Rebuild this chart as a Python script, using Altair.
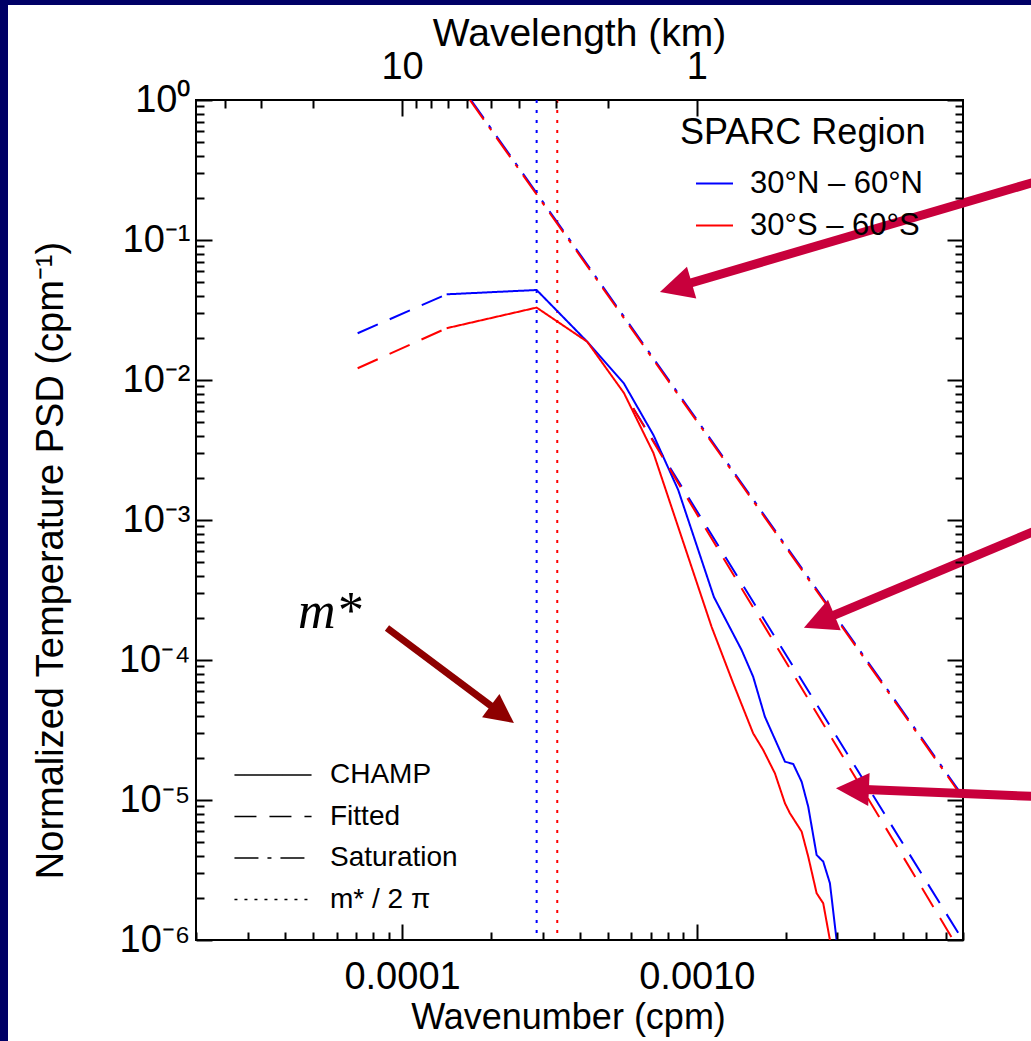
import math
import altair as alt
import pandas as pd

NAVY = "#000066"
CRIMSON = "#c8003c"
DARKRED = "#8e0000"
FONT = "Liberation Sans"

# ---------------- data ----------------
regions = ["30°N – 60°N", "30°S – 60°S"]
region_colors = ["#0000ff", "#ff0000"]
line_types = ["CHAMP", "Fitted", "Saturation", "m* / 2 π"]
line_dashes = [[1, 0], [22, 13], [24, 9, 4, 9], [3, 7]]

# CHAMP spectra (wavenumber in cpm, normalized PSD)
champ_n_k = [1.417e-4, 2.862e-4, 4.249e-4, 5.66e-4, 7.126e-4, 8.65e-4, 1.143e-3, 1.419e-3,
             1.553e-3, 1.702e-3, 1.991e-3, 2.124e-3, 2.268e-3, 2.388e-3, 2.55e-3, 2.685e-3,
             2.829e-3, 2.98e-3]
champ_n_psd = [0.04093, 0.04394, 0.01877, 0.00944, 0.004046, 0.001638, 2.818e-4, 1.179e-4,
               7.6e-5, 3.936e-5, 1.878e-5, 1.808e-5, 1.351e-5, 8.96e-6, 4.047e-6, 3.63e-6,
               2.544e-6, 1.0e-6]
champ_s_k = [1.417e-4, 2.862e-4, 4.249e-4, 5.66e-4, 7.126e-4, 1.123e-3, 1.329e-3, 1.553e-3,
             1.68e-3, 1.841e-3, 1.991e-3, 2.07e-3, 2.268e-3, 2.388e-3, 2.55e-3, 2.685e-3,
             2.829e-3]
champ_s_psd = [0.02344, 0.03290, 0.01877, 0.008075, 0.003011, 1.72e-4, 6.82e-5, 2.995e-5,
               2.276e-5, 1.551e-5, 9.47e-6, 8.04e-6, 5.95e-6, 3.94e-6, 2.157e-6, 1.829e-6,
               1.0e-6]

# fitted spectra: low-wavenumber extension and high-wavenumber power law
fit_low_k = [7.07e-5, 1.417e-4]
fit_low_n_psd = [0.02157, 0.04093]
fit_low_s_psd = [0.01213, 0.02344]
fit_high_n_k = [6.086e-4, 7.976e-3]
fit_high_n_psd = [6.278e-3, 1.0e-6]
fit_high_s_k = [6.086e-4, 7.413e-3]
fit_high_s_psd = [6.278e-3, 1.0e-6]

# saturation spectra
sat_k = [1.699e-4, 8.0e-3]
sat_n_psd = [1.025, 1.059e-5]
sat_s_psd = [1.0, 1.033e-5]

# m*/2pi vertical markers (blue, red)
mstar_k = [2.862e-4, 3.362e-4]

# annotation arrows (tail -> tip), in data units
arrow_tail_k = [1.4e-2, 1.4e-2, 1.4e-2, 8.89e-5]
arrow_tail_psd = [0.2596, 8.34e-4, 1.059e-5, 1.693e-4]
arrow_tip_k = [7.499e-4, 2.309e-3, 2.965e-3, 2.397e-4]
arrow_tip_psd = [0.04252, 1.70e-4, 1.215e-5, 3.548e-5]
arrow_kind = ["crimson", "crimson", "crimson", "dark"]

# "m*" label
mlabel_k = [4.436e-5]
mlabel_psd = [1.693e-4]
mlabel_text = ["m*"]

# axis ticks / labels
x_major = [1e-4, 1e-3]
x_major_labels = ["0.0001", "0.0010"]
wl_ticks_km = [40, 30, 20, 10, 9, 8, 7, 6, 5, 4, 3, 2, 1]
wl_major_km = [10, 1]
wl_major_labels = ["10", "1"]
y_major_labels = ["10⁰", "10⁻¹", "10⁻²", "10⁻³", "10⁻⁴", "10⁻⁵", "10⁻⁶"]

# ---------------- geometry ----------------
W, H = 767, 840
X_LO, X_HI = 2e-5, 8e-3
Y_LO, Y_HI = 1e-6, 1.0
LX0 = math.log10(X_LO)
LXD = math.log10(X_HI) - LX0
LY1 = math.log10(Y_HI)
LYD = LY1 - math.log10(Y_LO)


def to_px(k, p):
    return ((math.log10(k) - LX0) / LXD * W, (LY1 - math.log10(p)) / LYD * H)


def to_data(x, y):
    return (10 ** (LX0 + x / W * LXD), 10 ** (LY1 - y / H * LYD))


XS = alt.Scale(type="log", domain=[X_LO, X_HI], nice=False)
YS = alt.Scale(type="log", domain=[Y_LO, Y_HI], nice=False)

# ---------------- tables ----------------
rows = []


def add(region, typ, seg, ks, ps):
    for k, p in zip(ks, ps):
        rows.append({"k": k, "psd": p, "region": region, "type": typ, "seg": seg})


add(regions[0], "Saturation", "sat", sat_k, sat_n_psd)
add(regions[0], "Fitted", "fit_low", fit_low_k, fit_low_n_psd)
add(regions[0], "Fitted", "fit_high", fit_high_n_k, fit_high_n_psd)
add(regions[0], "CHAMP", "champ", champ_n_k, champ_n_psd)
add(regions[1], "Saturation", "sat", sat_k, sat_s_psd)
add(regions[1], "Fitted", "fit_low", fit_low_k, fit_low_s_psd)
add(regions[1], "Fitted", "fit_high", fit_high_s_k, fit_high_s_psd)
add(regions[1], "CHAMP", "champ", champ_s_k, champ_s_psd)
lines_df = pd.DataFrame(rows)

vlines_df = pd.DataFrame({"k": mstar_k, "region": regions, "type": [line_types[3]] * 2})

HEAD_PATH = "M0,0L-1,2L1,2Z"
head_size = {"crimson": 1089, "dark": 841}
shaft_w = {"crimson": 9, "dark": 7}
arrow_rows = []
for k0, p0, k1, p1, kind in zip(arrow_tail_k, arrow_tail_psd, arrow_tip_k, arrow_tip_psd, arrow_kind):
    x0, y0 = to_px(k0, p0)
    x1, y1 = to_px(k1, p1)
    dx, dy = x1 - x0, y1 - y0
    L = math.hypot(dx, dy)
    ux, uy = dx / L, dy / L
    s = math.sqrt(head_size[kind]) / 2
    ex, ey = x1 - ux * 1.4 * s, y1 - uy * 1.4 * s
    ke, pe = to_data(ex, ey)
    ang = math.degrees(math.atan2(dx, -dy)) % 360
    arrow_rows.append({"k0": k0, "p0": p0, "ke": ke, "pe": pe, "k1": k1, "p1": p1,
                       "angle": ang, "kind": kind})
arrows_df = pd.DataFrame(arrow_rows)

mlabel_df = pd.DataFrame({"k": mlabel_k, "psd": mlabel_psd, "t": mlabel_text})
one = pd.DataFrame({"a": [0]})

# ---------------- axes ----------------
TICK = "abs(log(datum.value)/LN10 - round(log(datum.value)/LN10)) < 0.001 ? -16 : -8"
x_ticks = [d * 10 ** e for e in (-5, -4, -3) for d in range(1, 10)
           if X_LO * 0.999 <= d * 10 ** e <= X_HI * 1.001]
y_ticks = [d * 10 ** e for e in range(-6, 0) for d in range(1, 10)] + [1.0]
wl_ticks = [1 / (w * 1000) for w in wl_ticks_km]

x_label_expr = " : ".join(f"datum.value == {v} ? '{l}'" for v, l in zip(x_major, x_major_labels)) + " : ''"
top_label_expr = " : ".join(f"datum.value == {1 / (w * 1000)} ? '{l}'"
                            for w, l in zip(wl_major_km, wl_major_labels)) + " : ''"
y_label_expr = ("abs(log(datum.value)/LN10 - round(log(datum.value)/LN10)) < 0.001 ? ["
                + ",".join(f"'{l}'" for l in y_major_labels)
                + "][round(-log(datum.value)/LN10)] : ''")

common_axis = dict(tickSize={"expr": TICK}, tickWidth=2, tickColor="black", domain=False,
                   grid=False, labelOverlap=False, labelFlush=False, labelColor="black",
                   labelFont=FONT, titleFont=FONT, titleColor="black", titleFontWeight="normal",
                   zindex=1)

x_bottom = alt.Axis(orient="bottom", values=x_ticks, labelExpr=x_label_expr, labelFontSize=38,
                    labelPadding=34, title="Wavenumber (cpm)", titleFontSize=36, titleX=372,
                    titleY=77, titleBaseline="middle", **common_axis)
y_left = alt.Axis(orient="left", values=y_ticks, labelExpr=y_label_expr, labelFontSize=38,
                  labelPadding=22, title="Normalized Temperature PSD (cpm⁻¹)", titleFontSize=38,
                  titleX=-145, titleY=460, titleBaseline="middle", titleAngle=270, **common_axis)
x_top = alt.Axis(orient="top", values=wl_ticks, labelExpr=top_label_expr, labelFontSize=38,
                 labelPadding=30, title="Wavelength (km)", titleFontSize=39, titleX=383,
                 titleY=-67, titleBaseline="middle", **common_axis)
y_right = alt.Axis(orient="right", values=y_ticks, labels=False, title=None, **common_axis)

# ---------------- layers ----------------
frame_top = alt.Chart(one).mark_rect(color=NAVY).encode(
    x=alt.value(-196), x2=alt.value(835), y=alt.value(-100), y2=alt.value(-95))
frame_left = alt.Chart(one).mark_rect(color=NAVY).encode(
    x=alt.value(-196), x2=alt.value(-188), y=alt.value(-100), y2=alt.value(941))

# long horizontal legend line (77 px with symbolSize 900)
LEGEND_LINE = "M-2.57,0H2.57"

color_enc = alt.Color("region:N", scale=alt.Scale(domain=regions, range=region_colors),
                      legend=alt.Legend(title="SPARC Region", orient="none", legendX=484, legendY=16,
                                        direction="vertical", symbolType="stroke", symbolSize=1369,
                                        symbolStrokeWidth=2, symbolOffset=15, labelOffset=16,
                                        labelFontSize=31, labelFont=FONT, labelColor="black",
                                        titleFontSize=36, titleFont=FONT, titleFontWeight="normal",
                                        titleColor="black", titlePadding=12, rowPadding=7,
                                        labelLimit=0, titleLimit=0, padding=0))
dash_enc = alt.StrokeDash("type:N", scale=alt.Scale(domain=line_types, range=line_dashes),
                          legend=alt.Legend(title=None, orient="none", legendX=38, legendY=659,
                                            direction="vertical", symbolType=LEGEND_LINE,
                                            symbolSize=900, symbolStrokeWidth=1.5,
                                            symbolStrokeColor="black", symbolOffset=23,
                                            labelOffset=41, labelFontSize=28, labelFont=FONT,
                                            labelColor="black", rowPadding=11.5, labelLimit=0,
                                            padding=0))

vlines = alt.Chart(vlines_df).mark_rule(strokeWidth=2, color="black").encode(
    x=alt.X("k:Q", scale=XS, axis=None),
    color=color_enc, strokeDash=dash_enc)

lines = alt.Chart(lines_df).mark_line(strokeWidth=2, clip=True, color="black").encode(
    x=alt.X("k:Q", scale=XS, axis=x_bottom),
    y=alt.Y("psd:Q", scale=YS, axis=y_left),
    color=color_enc, strokeDash=dash_enc, detail="seg:N")

shafts = []
heads = []
for kind, col in (("crimson", CRIMSON), ("dark", DARKRED)):
    sub = arrows_df[arrows_df.kind == kind]
    shafts.append(alt.Chart(sub).mark_rule(color=col, strokeWidth=shaft_w[kind], strokeCap="butt").encode(
        x=alt.X("k0:Q", scale=XS, axis=None), y=alt.Y("p0:Q", scale=YS, axis=None),
        x2="ke:Q", y2="pe:Q"))
    heads.append(alt.Chart(sub).mark_point(shape=HEAD_PATH, filled=True, color=col, opacity=1,
                                           size=head_size[kind], strokeWidth=0).encode(
        x=alt.X("k1:Q", scale=XS, axis=None), y=alt.Y("p1:Q", scale=YS, axis=None),
        angle=alt.Angle("angle:Q", scale=None)))

mlabel = alt.Chart(mlabel_df).mark_text(font="Liberation Serif", fontStyle="italic", fontSize=52,
                                        align="left", baseline="alphabetic", color="black").encode(
    x=alt.X("k:Q", scale=XS, axis=x_top),
    y=alt.Y("psd:Q", scale=YS, axis=y_right),
    text="t:N")

chart = alt.layer(frame_top, frame_left, vlines, lines, *shafts, *heads, mlabel).resolve_axis(
    x="independent", y="independent"
).properties(
    width=W, height=H,
    padding={"left": 196, "top": 100, "right": 68, "bottom": 101},
    autosize=alt.AutoSizeParams(type="none"),
    background="white",
).configure(font=FONT).configure_view(stroke="black", strokeWidth=2)

chart.save("out.html", embed_options={"renderer": "svg", "actions": False})
